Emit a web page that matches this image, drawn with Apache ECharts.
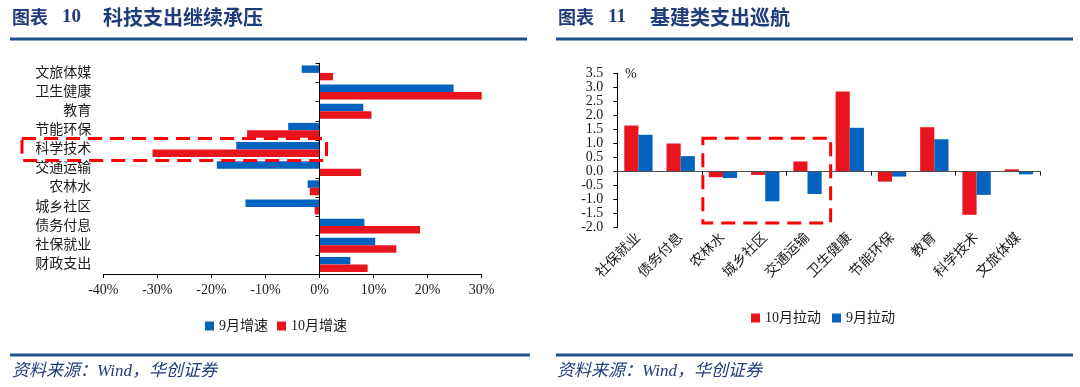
<!DOCTYPE html>
<html><head><meta charset="utf-8">
<script src="https://cdn.jsdelivr.net/npm/echarts@6/dist/echarts.min.js"></script>
<style>html,body{margin:0;padding:0;background:#fff}#c{width:1080px;height:387px}</style>
</head><body><div id="c"></div>
<script>
// ---- data (left: growth %, bottom-to-top order) ----
const leftCategories = ['财政支出','社保就业','债务付息','城乡社区','农林水','交通运输','科学技术','节能环保','教育','卫生健康','文旅体媒'];
const sepGrowth = [5.7, 10.3, 8.3, -13.7, -2.2, -19.0, -15.4, -5.8, 8.1, 24.8, -3.3];
const octGrowth = [8.9, 14.2, 18.6, -0.9, -1.8, 7.7, -30.9, -13.4, 9.6, 30.1, 2.5];
const leftTicks = [-40, -30, -20, -10, 0, 10, 20, 30];
// ---- data (right: contribution, pct points) ----
const rightCategories = ['社保就业','债务付息','农林水','城乡社区','交通运输','卫生健康','节能环保','教育','科学技术','文旅体媒'];
const octPull = [1.64, 1.00, -0.20, -0.12, 0.36, 2.85, -0.36, 1.58, -1.54, 0.08];
const sepPull = [1.31, 0.55, -0.23, -1.06, -0.80, 1.56, -0.18, 1.15, -0.83, -0.10];
const rightTicks = [-2.0, -1.5, -1.0, -0.5, 0.0, 0.5, 1.0, 1.5, 2.0, 2.5, 3.0, 3.5];

const FONT = '"Times New Roman","Liberation Serif","Noto Sans CJK SC",serif';
const BLUE = '#0563C0', RED = '#E8141E', NAVY = '#1F3D7A', TXT = '#1a1a1a';

const chart = echarts.init(document.getElementById('c'), null, {renderer: 'canvas'});

const option = {
  animation: false,
  textStyle: {fontFamily: FONT},
  grid: [
    {left: 103.3, top: 63.3, width: 378.4, height: 210.7},
    {left: 617.3, top: 73.3, width: 422.7, height: 154.4}
  ],
  legend: [
    {data: ['9月增速', '10月增速'], left: 200, top: 314, icon: 'rect', itemWidth: 9, itemHeight: 9, itemGap: 9,
     textStyle: {fontSize: 14, color: TXT, fontFamily: FONT}},
    {data: ['10月拉动', '9月拉动'], left: 746, top: 306, icon: 'rect', itemWidth: 9, itemHeight: 9, itemGap: 11,
     textStyle: {fontSize: 14, color: TXT, fontFamily: FONT}}
  ],
  xAxis: [
    {type: 'value', gridIndex: 0, min: leftTicks[0], max: leftTicks[leftTicks.length - 1], interval: 10,
     axisLine: {show: true, onZero: false, lineStyle: {color: '#000', width: 1}},
     axisTick: {show: true, length: 4, lineStyle: {color: '#000'}},
     axisLabel: {formatter: '{value}%', fontSize: 14, color: TXT, margin: 9, fontFamily: FONT},
     splitLine: {show: false}},
    {type: 'category', gridIndex: 1, data: rightCategories, position: 'bottom',
     axisLine: {show: false, onZero: false}, axisTick: {show: false},
     axisLabel: {rotate: 45, fontSize: 14, color: TXT, margin: 8, interval: 0, fontFamily: FONT}},
    {type: 'category', gridIndex: 1, data: rightCategories, position: 'bottom', z: 5,
     axisLine: {show: true, onZero: true, lineStyle: {color: '#505050', width: 1}},
     axisTick: {show: true, length: 4, lineStyle: {color: '#000'}},
     axisLabel: {show: false}}
  ],
  yAxis: [
    {type: 'category', gridIndex: 0, data: leftCategories, position: 'left',
     axisLine: {show: false, onZero: false}, axisTick: {show: false},
     axisLabel: {fontSize: 14, color: TXT, margin: 12, interval: 0, fontFamily: FONT}},
    {type: 'category', gridIndex: 0, data: leftCategories, position: 'left', z: 5,
     axisLine: {show: true, onZero: true, lineStyle: {color: '#000', width: 1}},
     axisTick: {show: true, length: 4, lineStyle: {color: '#000'}},
     axisLabel: {show: false}},
    {type: 'value', gridIndex: 1, min: rightTicks[0], max: rightTicks[rightTicks.length - 1], interval: 0.5,
     axisLine: {show: true, onZero: false, lineStyle: {color: '#000', width: 1}},
     axisTick: {show: true, length: 4, lineStyle: {color: '#000'}},
     axisLabel: {formatter: v => v.toFixed(1), fontSize: 14, color: TXT, margin: 14, fontFamily: FONT},
     splitLine: {show: false}}
  ],
  series: [
    {name: '9月增速', type: 'bar', xAxisIndex: 0, yAxisIndex: 0, data: sepGrowth,
     itemStyle: {color: BLUE}, barGap: '0%', barCategoryGap: '22%'},
    {name: '10月增速', type: 'bar', xAxisIndex: 0, yAxisIndex: 0, data: octGrowth,
     itemStyle: {color: RED}, barGap: '0%', barCategoryGap: '22%'},
    {name: '10月拉动', type: 'bar', xAxisIndex: 1, yAxisIndex: 2, data: octPull,
     itemStyle: {color: RED}, barGap: '0%', barCategoryGap: '33%'},
    {name: '9月拉动', type: 'bar', xAxisIndex: 1, yAxisIndex: 2, data: sepPull,
     itemStyle: {color: BLUE}, barGap: '0%', barCategoryGap: '33%'}
  ]
};
chart.setOption(option);

// dashed highlight boxes located from axis scales
const cL = chart.convertToPixel({seriesIndex: 0}, [0, '科学技术']);
const cL2 = chart.convertToPixel({seriesIndex: 0}, [0, '节能环保']);
const bandL = Math.abs(cL[1] - cL2[1]);
const r1 = chart.convertToPixel({seriesIndex: 2}, ['农林水', 1.19]);
const r2 = chart.convertToPixel({seriesIndex: 2}, ['交通运输', -1.83]);
const r3 = chart.convertToPixel({seriesIndex: 2}, ['城乡社区', 0]);
const bandR = Math.abs(r3[0] - r1[0]);
const dash = {stroke: '#FF0000', lineWidth: 3, lineDash: [14, 8], fill: 'none'};

const lineColor = '#23508F';
chart.setOption({
  graphic: [
    {type: 'rect', shape: {x: 22, y: cL[1] - bandL / 2 - 1.5, width: cL[0] + 7 - 22, height: bandL + 3}, style: dash, z: 10},
    {type: 'rect', shape: {x: r1[0] - bandR / 2 + 1, y: r1[1], width: (r2[0] + bandR / 2 + 2) - (r1[0] - bandR / 2 + 1), height: r2[1] - r1[1]}, style: dash, z: 10},
    {type: 'rect', shape: {x: 10, y: 37.5, width: 517, height: 3}, style: {fill: lineColor}},
    {type: 'rect', shape: {x: 556, y: 37.5, width: 517, height: 3}, style: {fill: lineColor}},
    {type: 'rect', shape: {x: 10, y: 353.5, width: 520, height: 3}, style: {fill: lineColor}},
    {type: 'rect', shape: {x: 556, y: 353.5, width: 517, height: 3}, style: {fill: lineColor}},
    {type: 'text', x: 12, y: 17, style: {text: '图表', font: 'bold 18px "Noto Sans CJK SC"', fill: NAVY, textVerticalAlign: 'middle'}},
    {type: 'text', x: 62, y: 17, style: {text: '10', font: 'bold 19px "Liberation Serif"', fill: NAVY, textVerticalAlign: 'middle'}},
    {type: 'text', x: 103, y: 17, style: {text: '科技支出继续承压', font: 'bold 20px "Noto Sans CJK SC"', fill: NAVY, textVerticalAlign: 'middle'}},
    {type: 'text', x: 558, y: 17, style: {text: '图表', font: 'bold 18px "Noto Sans CJK SC"', fill: NAVY, textVerticalAlign: 'middle'}},
    {type: 'text', x: 608, y: 17, style: {text: '11', font: 'bold 19px "Liberation Serif"', fill: NAVY, textVerticalAlign: 'middle'}},
    {type: 'text', x: 650, y: 17, style: {text: '基建类支出巡航', font: 'bold 20px "Noto Sans CJK SC"', fill: NAVY, textVerticalAlign: 'middle'}},
    {type: 'text', x: 12, y: 372, style: {text: '资料来源：Wind，华创证券', font: 'italic 17px "Liberation Serif","Noto Sans CJK SC"', fill: NAVY, textVerticalAlign: 'middle'}},
    {type: 'text', x: 557, y: 372, style: {text: '资料来源：Wind，华创证券', font: 'italic 17px "Liberation Serif","Noto Sans CJK SC"', fill: NAVY, textVerticalAlign: 'middle'}},
    {type: 'text', x: 625, y: 74, style: {text: '%', font: '14px "Liberation Serif"', fill: TXT, textVerticalAlign: 'middle'}}
  ]
});
</script></body></html>
